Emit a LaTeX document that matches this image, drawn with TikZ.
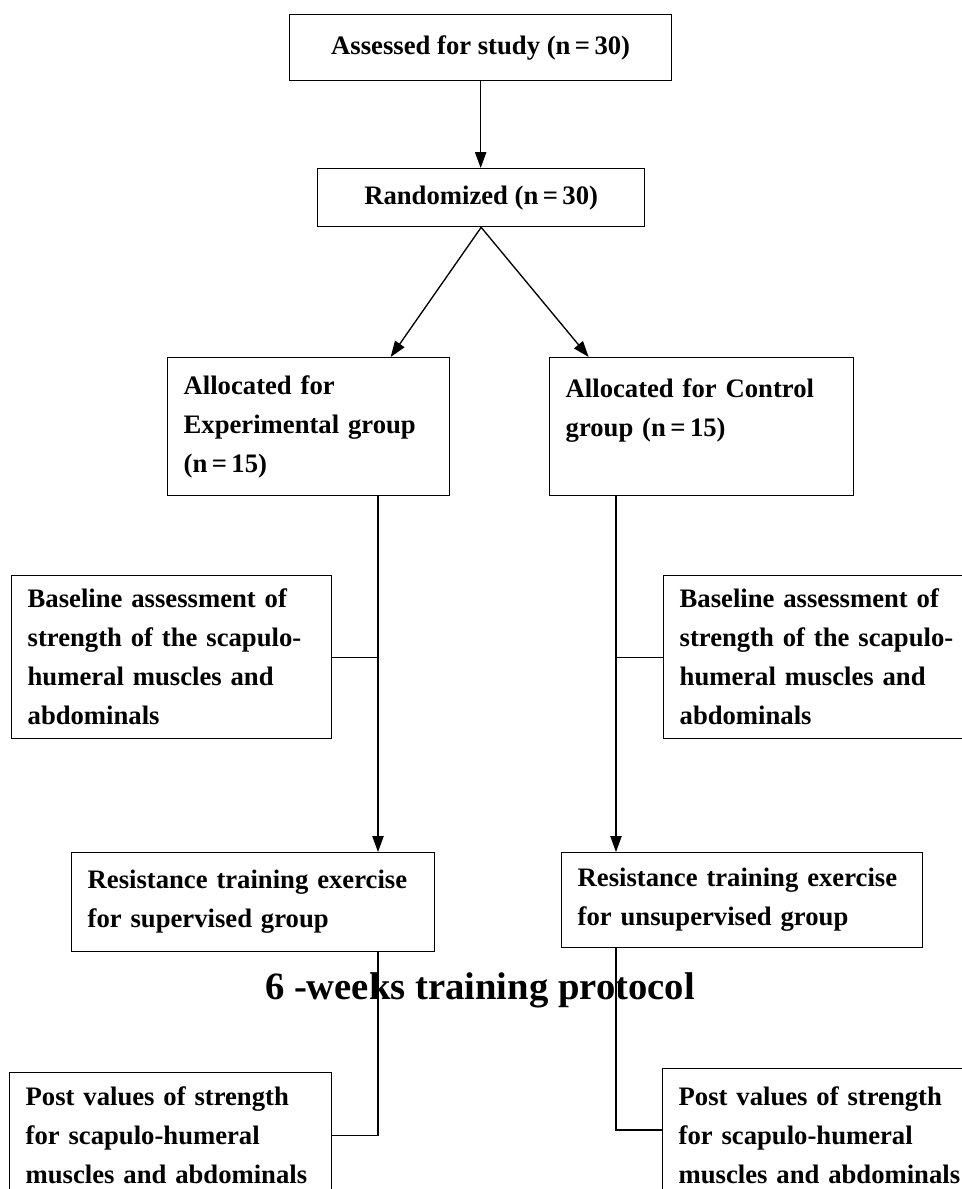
\documentclass[tikz,border=0pt]{standalone}
\usepackage{fontspec}
\setmainfont{Liberation Serif}
\usetikzlibrary{arrows.meta}

\tikzset{
    flowbox/.style={draw, line width=1pt, anchor=north west, inner xsep=12pt, inner ysep=0pt,
        align=left, font=\fontsize{20pt}{29.25pt}\selectfont\bfseries},
    flowarrow/.style={line width=1pt, -{Triangle[length=12pt,width=8.5pt]}},
    flowline/.style={line width=1pt}
}

\begin{document}
\begin{tikzpicture}[x=0.75pt, y=-0.75pt]
    \useasboundingbox (0,0) rectangle (961,1189);
    % Assessment and randomization
    \node[flowbox, align=center, minimum width=286.5pt, minimum height=49.5pt] (assess) at (289,14) {Assessed for study (n\,=\,30)};
    \node[flowbox, align=center, minimum width=245.25pt, minimum height=43.5pt] (rand) at (317,168) {Randomized (n\,=\,30)};
    % Allocation
    \node[flowbox, text width=187.5pt, minimum height=103.5pt] (allocE) at (167,357) {Allocated for\\Experimental group\\(n\,=\,15)};
    \node[flowbox, text width=204pt, minimum height=103.5pt] (allocC) at (549,357) {Allocated for Control\\group (n\,=\,15)\\\mbox{}};
    % Baseline assessment
    \node[flowbox, text width=216pt, minimum height=122.25pt] (baseE) at (11,575) {Baseline assessment of\\strength of the scapulo-\\humeral muscles and\\abdominals};
    \node[flowbox, text width=216pt, minimum height=122.25pt] (baseC) at (663,575) {Baseline assessment of\\strength of the scapulo-\\humeral muscles and\\abdominals};
    % Training
    \node[flowbox, text width=248.25pt, minimum height=74.25pt] (resE) at (71,852) {Resistance training exercise\\for supervised group};
    \node[flowbox, text width=246.75pt, minimum height=71.25pt] (resC) at (561,852) {Resistance training exercise\\for unsupervised group};
    \node[anchor=base, font=\fontsize{29pt}{34pt}\selectfont\bfseries] (protocol) at (480,999) {6 -weeks training protocol};
    % Post values
    \node[flowbox, text width=217.5pt, minimum height=94.5pt] (postE) at (9,1072) {Post values of strength\\for scapulo-humeral\\muscles and abdominals};
    \node[flowbox, text width=217.5pt, minimum height=100.5pt] (postC) at (662,1068) {Post values of strength\\for scapulo-humeral\\muscles and abdominals};
    % Vertical spines
    \coordinate (spineE) at (378,0);
    \coordinate (spineC) at (616,0);
    % Connectors
    \draw[flowarrow] (assess.south) -- (assess.south |- rand.north);
    \draw[flowarrow] (rand.south) -- ([xshift=61.5pt]allocE.north);
    \draw[flowarrow] (rand.south) -- ([xshift=-84.75pt]allocC.north);
    \draw[flowarrow] (allocE.south -| spineE) -- (resE.north -| spineE);
    \draw[flowarrow] (allocC.south -| spineC) -- (resC.north -| spineC);
    \draw[flowline] (baseE.east) -- (baseE.east -| spineE);
    \draw[flowline] (baseC.west) -- (baseC.west -| spineC);
    \draw[flowline] (resE.south -| spineE) |- (postE.east);
    \draw[flowline] (resC.south -| spineC) |- ([yshift=-46.5pt]postC.north west);
\end{tikzpicture}
\end{document}
